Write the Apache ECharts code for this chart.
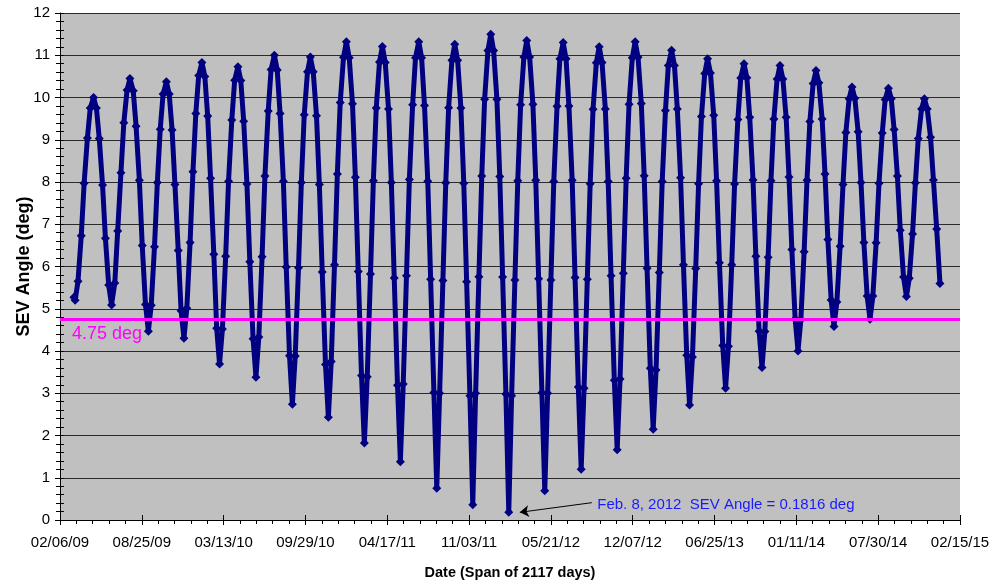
<!DOCTYPE html>
<html>
<head>
<meta charset="utf-8">
<script src="https://cdn.jsdelivr.net/npm/echarts@6/dist/echarts.min.js"></script>
<style>
html,body{margin:0;padding:0;background:#ffffff;}
#chart{width:991px;height:586px;}
</style>
</head>
<body>
<div id="chart"></div>
<script>
// ---- data ----
// x tick labels (every 200 days, starting 02/06/09)
const xTickLabels = ['02/06/09','08/25/09','03/13/10','09/29/10','04/17/11','11/03/11',
                     '05/21/12','12/07/12','06/25/13','01/11/14','07/30/14','02/15/15'];
const tickStepDays = 200;

// sample dates, in days since 02/06/09
const dayOffset = [34, 37, 44, 52, 59, 67, 74, 82, 89, 96, 104, 111, 119,
  126, 134, 141, 149, 156, 164, 171, 179, 186, 194, 201, 209,
  216, 223, 231, 238, 245, 252, 260, 267, 274, 281, 289, 296,
  303, 310, 318, 325, 332, 339, 347, 354, 361, 368, 376, 383,
  390, 397, 405, 412, 420, 427, 435, 442, 449, 457, 464, 472,
  479, 486, 494, 501, 509, 516, 524, 531, 538, 546, 553, 561,
  568, 575, 583, 590, 597, 605, 612, 619, 627, 634, 641, 649,
  656, 663, 671, 678, 685, 693, 700, 707, 715, 722, 729, 737,
  744, 751, 759, 766, 773, 781, 788, 795, 803, 810, 817, 825,
  832, 839, 847, 854, 862, 869, 877, 884, 891, 899, 906, 914,
  921, 928, 936, 943, 950, 958, 965, 972, 980, 987, 994, 1002,
  1009, 1016, 1024, 1031, 1038, 1046, 1053, 1060, 1068, 1075, 1082, 1090,
  1097, 1104, 1112, 1119, 1126, 1134, 1141, 1148, 1156, 1163, 1170, 1178,
  1185, 1192, 1200, 1207, 1215, 1222, 1230, 1237, 1244, 1252, 1259, 1267,
  1274, 1281, 1289, 1296, 1303, 1311, 1318, 1325, 1333, 1340, 1347, 1355,
  1362, 1369, 1377, 1384, 1391, 1399, 1406, 1413, 1421, 1428, 1435, 1443,
  1450, 1457, 1465, 1472, 1480, 1487, 1495, 1502, 1509, 1517, 1524, 1532,
  1539, 1546, 1554, 1561, 1568, 1576, 1583, 1590, 1598, 1605, 1612, 1620,
  1627, 1634, 1642, 1649, 1657, 1664, 1672, 1679, 1686, 1694, 1701, 1709,
  1716, 1723, 1731, 1738, 1745, 1753, 1760, 1767, 1775, 1782, 1789, 1797,
  1804, 1811, 1819, 1826, 1833, 1841, 1848, 1855, 1863, 1870, 1877, 1885,
  1892, 1899, 1907, 1914, 1921, 1929, 1936, 1943, 1951, 1958, 1965, 1973,
  1980, 1987, 1995, 2002, 2010, 2017, 2025, 2032, 2039, 2047, 2054, 2062,
  2069, 2076, 2084, 2091, 2098, 2106, 2113, 2120, 2128, 2135, 2143, 2151];

// SEV angle (deg) at those dates
const sevAngle = [5.27, 5.2, 5.65, 6.73, 7.97, 9.04, 9.75, 10.0, 9.75, 9.03, 7.93, 6.67, 5.56,
  5.09, 5.61, 6.84, 8.22, 9.40, 10.18, 10.45, 10.16, 9.32, 8.04, 6.50, 5.10,
  4.47, 5.08, 6.47, 7.99, 9.25, 10.08, 10.37, 10.08, 9.23, 7.94, 6.38, 4.95,
  4.30, 5.01, 6.57, 8.24, 9.62, 10.52, 10.83, 10.50, 9.56, 8.09, 6.29, 4.54,
  3.69, 4.52, 6.24, 8.02, 9.47, 10.41, 10.73, 10.40, 9.44, 7.95, 6.11, 4.29,
  3.38, 4.33, 6.23, 8.14, 9.68, 10.66, 11.0, 10.65, 9.62, 8.02, 5.99, 3.89,
  2.74, 3.88, 5.97, 7.99, 9.59, 10.61, 10.96, 10.61, 9.57, 7.94, 5.87, 3.68,
  2.43, 3.75, 6.04, 8.19, 9.88, 10.95, 11.32, 10.94, 9.85, 8.11, 5.88, 3.42,
  1.82, 3.39, 5.82, 8.03, 9.75, 10.84, 11.21, 10.83, 9.73, 7.99, 5.73, 3.19,
  1.38, 3.22, 5.78, 8.06, 9.83, 10.94, 11.32, 10.94, 9.81, 8.02, 5.70, 3.02,
  0.75, 3.00, 5.67, 7.98, 9.76, 10.88, 11.26, 10.88, 9.75, 7.97, 5.64, 2.94,
  0.36, 3.00, 5.76, 8.14, 9.96, 11.11, 11.5, 11.11, 9.96, 8.13, 5.75, 2.98,
  0.1816, 2.94, 5.68, 8.03, 9.83, 10.96, 11.35, 10.96, 9.84, 8.04, 5.71, 3.01,
  0.69, 3.00, 5.68, 8.01, 9.79, 10.92, 11.3, 10.92, 9.80, 8.04, 5.74, 3.15,
  1.20, 3.12, 5.70, 7.96, 9.72, 10.82, 11.2, 10.83, 9.73, 8.01, 5.78, 3.31,
  1.66, 3.34, 5.84, 8.09, 9.84, 10.94, 11.32, 10.95, 9.86, 8.15, 5.96, 3.59,
  2.15, 3.55, 5.86, 8.01, 9.69, 10.76, 11.12, 10.76, 9.73, 8.10, 6.04, 3.90,
  2.72, 3.86, 5.95, 7.96, 9.55, 10.57, 10.92, 10.58, 9.58, 8.03, 6.09, 4.13,
  3.12, 4.11, 6.04, 7.95, 9.48, 10.46, 10.8, 10.47, 9.53, 8.05, 6.24, 4.47,
  3.61, 4.46, 6.22, 8.03, 9.49, 10.44, 10.76, 10.44, 9.53, 8.12, 6.40, 4.76,
  4.00, 4.74, 6.35, 8.04, 9.43, 10.33, 10.64, 10.35, 9.49, 8.19, 6.64, 5.21,
  4.58, 5.16, 6.48, 7.94, 9.17, 9.97, 10.25, 9.98, 9.19, 7.99, 6.57, 5.30,
  4.75, 5.30, 6.56, 7.97, 9.16, 9.95, 10.22, 9.97, 9.24, 8.14, 6.86, 5.75,
  5.29, 5.72, 6.77, 7.98, 9.03, 9.73, 9.97, 9.73, 9.06, 8.05, 6.89, 5.60];

const thresholdDeg = 4.75;
const minDay = 1097;          // Feb. 8, 2012
const minAngle = 0.1816;
const minLabel = 'Feb. 8, 2012  SEV Angle = ' + minAngle + ' deg';

// ---- chart ----
const FONT = 'Arial, "Liberation Sans", Helvetica, sans-serif';
const points = dayOffset.map((d, i) => [d, sevAngle[i]]);
const xMax = tickStepDays * (xTickLabels.length - 1);

const chart = echarts.init(document.getElementById('chart'), null, {renderer: 'canvas'});
chart.setOption({
  animation: false,
  backgroundColor: '#ffffff',
  textStyle: {fontFamily: FONT},
  grid: {left: 60, right: 31, top: 13, bottom: 66, show: true, containLabel: false,
         outerBoundsMode: 'none',
         backgroundColor: '#c0c0c0', borderWidth: 0},
  xAxis: [{
    type: 'value', min: 0, max: xMax, interval: tickStepDays, position: 'bottom',
    axisLine: {show: true, onZero: false, lineStyle: {color: '#000', width: 1}},
    axisTick: {show: true, inside: false, length: 5, lineStyle: {color: '#000'}},
    minorTick: {show: true, splitNumber: 5, length: 4, lineStyle: {color: '#000'}},
    splitLine: {show: false},
    axisLabel: {margin: 15, fontSize: 15, color: '#000', fontFamily: FONT,
                formatter: v => xTickLabels[Math.round(v / tickStepDays)] || ''},
    name: 'Date (Span of 2117 days)', nameLocation: 'middle', nameGap: 45,
    nameMoveOverlap: false,
    nameTextStyle: {fontSize: 14.5, fontWeight: 'bold', color: '#000', fontFamily: FONT}
  }, {
    type: 'value', min: 0, max: xMax, interval: tickStepDays, position: 'bottom', offset: 0,
    axisLine: {show: false},
    axisTick: {show: true, inside: true, length: 5, lineStyle: {color: '#000'}},
    axisLabel: {show: false}, splitLine: {show: false}
  }],
  yAxis: [{
    type: 'value', min: 0, max: 12, interval: 1, position: 'left',
    axisLine: {show: true, onZero: false, lineStyle: {color: '#000', width: 1}},
    axisTick: {show: true, inside: false, length: 5, lineStyle: {color: '#000'}},
    minorTick: {show: true, splitNumber: 5, length: 4, lineStyle: {color: '#000'}},
    splitLine: {show: true, lineStyle: {color: '#2a2a2a', width: 1}},
    axisLabel: {margin: 10, fontSize: 15, color: '#000', fontFamily: FONT},
    name: 'SEV Angle (deg)', nameLocation: 'middle', nameGap: 27,
    nameMoveOverlap: false,
    nameTextStyle: {fontSize: 18, fontWeight: 'bold', color: '#000', fontFamily: FONT}
  }, {
    type: 'value', min: 0, max: 12, interval: 1, position: 'left', offset: 0,
    axisLine: {show: false},
    axisTick: {show: true, inside: true, length: 4, lineStyle: {color: '#000'}},
    minorTick: {show: true, splitNumber: 5, length: 4, lineStyle: {color: '#000'}},
    axisLabel: {show: false}, splitLine: {show: false}
  }],
  series: [{
    name: 'threshold', type: 'line', data: [], z: 1, xAxisIndex: 0, yAxisIndex: 0,
    markLine: {
      silent: true, symbol: 'none', animation: false,
      lineStyle: {color: '#ff00ff', width: 3, type: 'solid'},
      label: {show: true, position: 'insideStartBottom', formatter: thresholdDeg + ' deg',
              color: '#ff00ff', fontSize: 18, fontFamily: FONT, distance: [12, 6]},
      data: [{yAxis: thresholdDeg}]
    }
  }, {
    name: 'SEV', type: 'line', data: points, z: 3, xAxisIndex: 0, yAxisIndex: 0,
    symbol: 'diamond', symbolSize: 9, showSymbol: true,
    lineStyle: {color: '#000080', width: 5},
    itemStyle: {color: '#000080'},
    emphasis: {disabled: true},
    markLine: {
      silent: true, symbol: ['none', 'arrow'], symbolSize: 9, animation: false,
      lineStyle: {color: '#000', width: 1, type: 'solid'},
      label: {show: false},
      data: [[{coord: [minDay + 203, 0.41]}, {coord: [minDay + 27, minAngle]}]]
    },
    markPoint: {
      silent: true, animation: false,
      data: [{coord: [minDay + 215, 0.355], symbol: 'rect', symbolSize: 1,
              itemStyle: {color: 'rgba(0,0,0,0)'},
              label: {show: true, position: 'right', distance: 0, formatter: minLabel,
                      color: '#1a1aff', fontSize: 15, fontFamily: FONT}}]
    }
  }]
});
</script>
</body>
</html>
